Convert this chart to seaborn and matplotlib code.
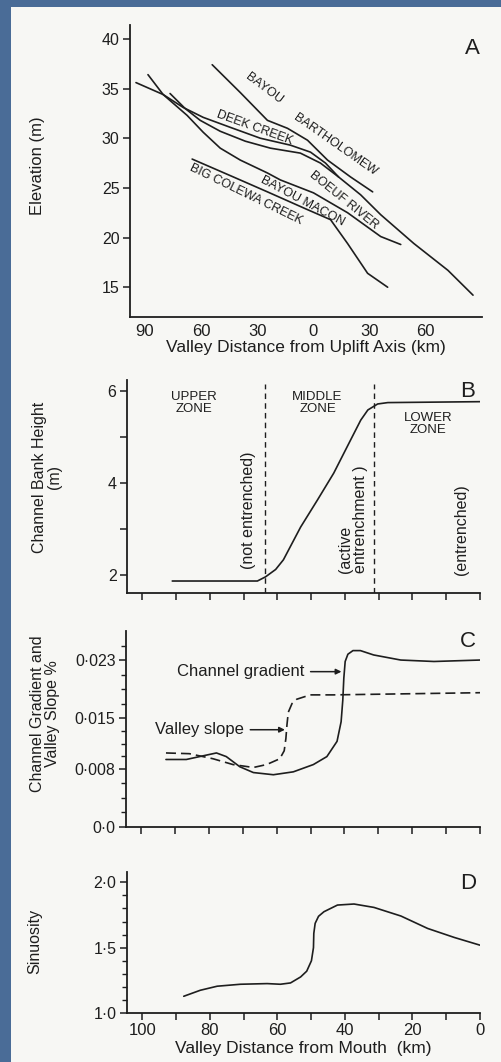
import numpy as np
import matplotlib
matplotlib.use("Agg")
import matplotlib.pyplot as plt
from matplotlib.patches import Rectangle
import seaborn as sns

# ---- Panel A: elevation profiles (x: km from uplift axis, upstream negative)
bartholomew_x = [-54.1, -39.1, -24.6, -13.9, -3.2, 7.5, 19.8, 31.6]
bartholomew_y = [37.4, 34.6, 31.8, 31.0, 29.8, 27.8, 26.1, 24.6]

deek_x = [-94.8, -80.3, -69.6, -58.9, -44.5, -28.4, -12.3, -1.6, 6.4, 13.4]
deek_y = [35.6, 34.4, 33.1, 32.1, 31.1, 30.0, 29.3, 28.6, 27.5, 26.1]

boeuf_x = [-76.6, -68.6, -60.5, -49.8, -36.4, -23.0, -7.0, 3.7, 13.4, 25.2, 35.9, 53.6, 71.8, 85.2]
boeuf_y = [34.5, 33.0, 31.8, 30.7, 29.7, 29.0, 28.5, 27.5, 26.1, 24.3, 22.3, 19.4, 16.7, 14.2]

macon_x = [-88.4, -80.3, -67.5, -58.9, -49.8, -39.1, -24.6, -17.7, 0.0, 18.2, 35.9, 46.6]
macon_y = [36.4, 34.4, 32.3, 30.6, 29.0, 27.8, 26.5, 25.8, 24.5, 22.5, 20.1, 19.3]

colewa_x = [-64.8, -42.8, -24.6, -4.3, 9.1, 18.2, 28.9, 39.6]
colewa_y = [27.9, 26.1, 24.6, 22.9, 21.8, 19.4, 16.4, 15.0]

a_xticks = [-90, -60, -30, 0, 30, 60]
a_xlabels = ["90", "60", "30", "0", "30", "60"]
a_yticks = [15, 20, 25, 30, 35, 40]

# ---- Panel B: channel bank height
bank_x = [91.1, 65.9, 63.5, 60.5, 58.2, 53.1, 48.1, 43.3, 38.3, 35.3, 33.2, 30.3, 27.3, 0.0]
bank_y = [1.87, 1.87, 1.96, 2.12, 2.33, 3.04, 3.63, 4.21, 4.93, 5.36, 5.58, 5.71, 5.74, 5.76]
zone_bounds = [63.5, 31.4]

# ---- Panel C: channel gradient and valley slope
grad_x = [92.7, 86.7, 80.8, 77.8, 74.9, 70.9, 66.9, 61.0, 55.1, 49.2, 45.2, 42.2,
          41.0, 40.5, 40.2, 39.8, 39.0, 37.5, 35.3, 31.4, 23.4, 13.6, 0.0]
grad_y = [0.0093, 0.0093, 0.0099, 0.0102, 0.0097, 0.0083, 0.0075, 0.0072, 0.0076,
          0.0086, 0.0097, 0.0118, 0.0145, 0.0175, 0.0205, 0.0228, 0.0238, 0.0243,
          0.0243, 0.0237, 0.0230, 0.0228, 0.0230]
slope_x = [92.7, 85.8, 78.8, 72.9, 66.9, 63.0, 59.1, 57.8, 57.3, 57.0, 56.6, 55.5,
           54.1, 50.1, 43.2, 0.0]
slope_y = [0.0102, 0.0101, 0.0094, 0.0086, 0.0082, 0.0086, 0.0094, 0.0105, 0.0122,
           0.0140, 0.0158, 0.0170, 0.0176, 0.0182, 0.0182, 0.0185]
c_yticks = [0.0, 0.008, 0.015, 0.023]
c_ylabels = ["0·0", "0·008", "0·015", "0·023"]
c_yminor = [0.002, 0.004, 0.006, 0.00975, 0.0115, 0.01325, 0.017, 0.019, 0.021, 0.025]

# ---- Panel D: sinuosity
sin_x = [87.7, 82.8, 77.8, 70.9, 63.0, 59.1, 56.1, 53.1, 51.3, 49.9, 49.3, 49.2,
         48.8, 47.8, 46.2, 42.2, 37.3, 31.4, 23.4, 15.5, 7.6, 0.0]
sin_y = [1.128, 1.174, 1.205, 1.220, 1.225, 1.220, 1.230, 1.276, 1.320, 1.400, 1.500,
         1.609, 1.686, 1.740, 1.775, 1.826, 1.834, 1.808, 1.742, 1.647, 1.578, 1.519]
d_xticks = [100, 80, 60, 40, 20, 0]
d_yticks = [1.0, 1.5, 2.0]
d_ylabels = ["1·0", "1·5", "2·0"]

INK = "#1e1e1e"
PAPER = "#f7f7f4"
BLUE = "#4a6c97"

sns.set_style("ticks")
plt.rcParams["font.family"] = ["Liberation Sans", "DejaVu Sans"]
plt.rcParams["text.color"] = INK
plt.rcParams["axes.labelcolor"] = INK
plt.rcParams["xtick.color"] = INK
plt.rcParams["ytick.color"] = INK
plt.rcParams["axes.edgecolor"] = INK

W, H = 502, 1062
fig = plt.figure(figsize=(W / 100, H / 100), dpi=100, facecolor=BLUE)
fig.add_artist(Rectangle((11 / W, 0), 1, (H - 7) / H, transform=fig.transFigure,
                         facecolor=PAPER, edgecolor="none", zorder=0))


def box(left, top, right, bottom):
    return [left / W, 1 - bottom / H, (right - left) / W, (bottom - top) / H]


def style(ax):
    ax.set_facecolor("none")
    sns.despine(ax=ax)
    for s in ["left", "bottom"]:
        ax.spines[s].set_linewidth(1.3)
    ax.tick_params(which="major", direction="out", length=5, width=1.1, labelsize=11.5, pad=2.5)
    ax.tick_params(which="minor", direction="out", length=3.5, width=1.0)


def curve(ax, x, y):
    sns.lineplot(x=x, y=y, ax=ax, color=INK, lw=1.2, sort=False, estimator=None)


LBL = 11.5
axes_box = {
    "A": box(130, 25, 482, 317),
    "B": box(127, 380, 480, 593),
    "C": box(126, 631, 480, 827),
    "D": box(127, 872, 480, 1013),
}
axA, axB, axC, axD = [fig.add_axes(axes_box[k]) for k in "ABCD"]

# ---------------- A
style(axA)
for xs, ys in [(bartholomew_x, bartholomew_y), (deek_x, deek_y), (boeuf_x, boeuf_y),
               (macon_x, macon_y), (colewa_x, colewa_y)]:
    curve(axA, xs, ys)
axA.set_xlim(-98, 90)
axA.set_ylim(12, 41.4)
axA.set_xticks(a_xticks, a_xlabels)
axA.set_yticks(a_yticks)
axA.tick_params(axis="x", length=0, pad=5, labelsize=12)
axA.set_xlabel("Valley Distance from Uplift Axis (km)", fontsize=12.5, labelpad=1)
axA.set_ylabel("Elevation (m)", fontsize=12)
axA.yaxis.set_label_coords(-0.241, 0.517)
lab = dict(fontsize=9, ha="center", va="center", rotation_mode="anchor")
axA.text(-26.5, 35.0, "BAYOU", rotation=-37, **lab)
axA.text(11.5, 29.3, "BARTHOLOMEW", rotation=-35, **lab)
axA.text(-31.6, 31.0, "DEEK CREEK", rotation=-20, **lab)
axA.text(16.0, 23.7, "BOEUF RIVER", rotation=-39, **lab)
axA.text(-5.6, 23.7, "BAYOU MACON", rotation=-28, **lab)
axA.text(-35.9, 24.3, "BIG COLEWA CREEK", rotation=-26, **lab)
axA.text(0.972, 0.921, "A", transform=axA.transAxes, fontsize=16, ha="center", va="center")

# ---------------- B
style(axB)
curve(axB, bank_x, bank_y)
for xb in zone_bounds:
    axB.axvline(xb, ymax=0.98, color=INK, lw=1.0, dashes=(4, 3))
axB.set_xlim(104.5, 0)
axB.set_ylim(1.61, 6.23)
axB.set_xticks(np.arange(0, 101, 10), [])
axB.set_yticks([2, 4, 6])
axB.set_yticks([3, 5], minor=True)
axB.tick_params(which="minor", length=5, width=1.1)
axB.set_ylabel("Channel Bank Height\n(m)", fontsize=LBL, linespacing=1.0)
axB.yaxis.set_label_coords(-0.184, 0.545)
zl = dict(fontsize=9.5, ha="center", va="center", linespacing=1.0)
axB.text(84.6, 5.73, "UPPER\nZONE", **zl)
axB.text(48.1, 5.73, "MIDDLE\nZONE", **zl)
axB.text(15.4, 5.28, "LOWER\nZONE", **zl)
rt = dict(rotation=90, fontsize=11.5)
axB.text(68.5, 3.41, "(not entrenched)", ha="center", va="center", **rt)
axB.text(37.7, 2.04, "(active\nentrenchment )", ha="center", va="bottom",
         multialignment="left", linespacing=1.0, **rt)
axB.text(5.6, 2.98, "(entrenched)", ha="center", va="center", **rt)
axB.text(0.966, 0.944, "B", transform=axB.transAxes, fontsize=16, ha="center", va="center")

# ---------------- C
style(axC)
curve(axC, grad_x, grad_y)
curve(axC, slope_x, slope_y)
axC.lines[-1].set_dashes((6, 3))
axC.set_xlim(104.5, 0)
axC.set_ylim(0, 0.027)
axC.set_xticks(np.arange(0, 101, 10), [])
axC.set_yticks(c_yticks, c_ylabels)
axC.set_yticks(c_yminor, minor=True)
axC.set_ylabel("Channel Gradient and\nValley Slope %", fontsize=LBL, linespacing=1.0)
axC.yaxis.set_label_coords(-0.186, 0.58)
arrow = dict(arrowstyle="-|>", color=INK, lw=1.1, mutation_scale=8, shrinkA=2, shrinkB=0)
axC.annotate("Channel gradient", xy=(40.9, 0.0214), xytext=(51.8, 0.0214), fontsize=12,
             ha="right", va="center", arrowprops=arrow)
axC.annotate("Valley slope", xy=(57.6, 0.0134), xytext=(69.6, 0.0134), fontsize=12,
             ha="right", va="center", arrowprops=arrow)
axC.text(0.966, 0.944, "C", transform=axC.transAxes, fontsize=16, ha="center", va="center")

# ---------------- D
style(axD)
curve(axD, sin_x, sin_y)
axD.set_xlim(104.5, 0)
axD.set_ylim(1.0, 2.079)
axD.set_xticks(d_xticks)
axD.set_xticks(np.arange(10, 100, 20), minor=True)
axD.tick_params(axis="x", which="minor", length=5, width=1.1)
axD.tick_params(axis="x", which="major", labelsize=12)
axD.set_yticks(d_yticks, d_ylabels)
axD.set_yticks(np.arange(1.1, 2.0, 0.1), minor=True)
axD.set_xlabel("Valley Distance from Mouth  (km)", fontsize=12.5, labelpad=2)
axD.set_ylabel("Sinuosity", fontsize=11.5)
axD.yaxis.set_label_coords(-0.241, 0.51)
axD.text(0.966, 0.92, "D", transform=axD.transAxes, fontsize=16, ha="center", va="center")

fig.savefig("out.png", dpi=100, facecolor=BLUE)
